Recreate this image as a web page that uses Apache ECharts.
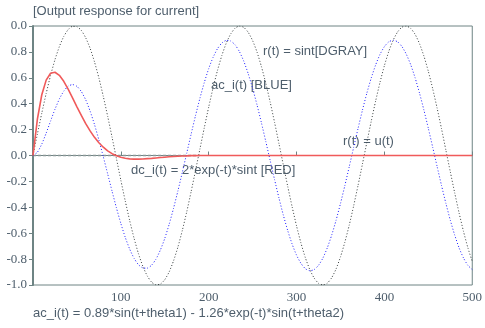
<!DOCTYPE html>
<html><head><meta charset="utf-8">
<script src="https://cdn.jsdelivr.net/npm/echarts@6/dist/echarts.min.js"></script>
<style>html,body{margin:0;padding:0;background:#fff}#c{width:485px;height:328px}</style>
</head><body><div id="c"></div>
<script>
var xs = [0,5,10,15,20,25,30,35,40,45,50,55,60,65,70,75,80,85,90,95,100,105,110,115,120,125,130,135,140,145,150,155,160,165,170,175,180,185,190,195,200,205,210,215,220,225,230,235,240,245,250,255,260,265,270,275,280,285,290,295,300,305,310,315,320,325,330,335,340,345,350,355,360,365,370,375,380,385,390,395,400,405,410,415,420,425,430,435,440,445,450,455,460,465,470,475,480,485,490,495,500];
var rSin = [0,0.166,0.327,0.479,0.618,0.740,0.841,0.919,0.972,0.998,0.995,0.966,0.909,0.828,0.723,0.599,0.457,0.303,0.141,-0.025,-0.191,-0.351,-0.501,-0.638,-0.757,-0.855,-0.929,-0.978,-0.999,-0.993,-0.959,-0.899,-0.813,-0.706,-0.578,-0.435,-0.279,-0.116,0.050,0.215,0.374,0.523,0.657,0.773,0.868,0.938,0.983,1.000,0.989,0.951,0.887,0.799,0.687,0.558,0.412,0.255,0.091,-0.075,-0.240,-0.397,-0.544,-0.676,-0.789,-0.880,-0.946,-0.987,-1.000,-0.986,-0.944,-0.876,-0.783,-0.669,-0.537,-0.389,-0.231,-0.066,0.100,0.264,0.420,0.565,0.694,0.804,0.891,0.954,0.991,1.000,0.981,0.935,0.863,0.767,0.650,0.515,0.366,0.207,0.041,-0.125,-0.288,-0.443,-0.585,-0.712,-0.819];
var acI = [0,0.025,0.088,0.173,0.266,0.357,0.436,0.497,0.535,0.548,0.534,0.494,0.430,0.343,0.239,0.120,-0.009,-0.142,-0.276,-0.405,-0.525,-0.632,-0.722,-0.793,-0.843,-0.868,-0.870,-0.847,-0.800,-0.730,-0.640,-0.531,-0.407,-0.272,-0.129,0.018,0.165,0.308,0.442,0.564,0.671,0.758,0.825,0.869,0.889,0.884,0.855,0.802,0.727,0.631,0.518,0.391,0.253,0.108,-0.040,-0.187,-0.329,-0.462,-0.581,-0.685,-0.770,-0.833,-0.874,-0.890,-0.881,-0.848,-0.792,-0.713,-0.615,-0.500,-0.371,-0.232,-0.086,0.063,0.209,0.350,0.481,0.598,0.699,0.781,0.841,0.878,0.890,0.878,0.841,0.781,0.700,0.599,0.481,0.350,0.210,0.063,-0.085,-0.231,-0.370,-0.499,-0.614,-0.713,-0.791,-0.848,-0.881];
var dcI = [0,0.281,0.469,0.582,0.635,0.643,0.619,0.573,0.512,0.445,0.376,0.309,0.246,0.190,0.140,0.098,0.064,0.036,0.014,-0.002,-0.014,-0.021,-0.026,-0.028,-0.028,-0.027,-0.024,-0.022,-0.019,-0.016,-0.013,-0.010,-0.008,-0.006,-0.004,-0.003,-0.001,-0.001,
  0,0,0,0,0,0,0,0,0,0,0,0,0,0,0,0,0,0,0,0,0,0,0,0,0,0,0,0,0,0,0,0,0,0,0,0,0,0,0,0,0,0,0,0,0,0,0,0,0,0,0,0,0,0,0,0,0,0,0,0,0,0,0];
var zeroRef = [0, 0];
var yTickLabels = ['-1.0','-0.8','-0.6','-0.4','-0.2','0.0','0.2','0.4','0.6','0.8','0.0'];
var xTickLabels = ['','100','200','300','400','500'];
var titleText = '[Output response for current]';
var notes = ['r(t) = sint[DGRAY]','ac_i(t) [BLUE]','dc_i(t) = 2*exp(-t)*sint [RED]','r(t) = u(t)','ac_i(t) = 0.89*sin(t+theta1) - 1.26*exp(-t)*sin(t+theta2)'];

function pairs(v){ return xs.map(function(x,i){ return [x, v[i]]; }); }
// the dashed zero reference is only visible where the red curve is not yet flat
var flatIdx = dcI.length - 1;
while (flatIdx > 0 && dcI[flatIdx - 1] === 0) flatIdx--;
var txtColor = '#4e5e6c';
var axisColor = '#6e8484';
var chart = echarts.init(document.getElementById('c'), null, {renderer:'canvas'});
var txt = function(s,l,t){ return {type:'text', left:l, top:t, style:{text:s, fill:txtColor, font:'13px "Liberation Sans", Arial, sans-serif'}}; };
chart.setOption({
  animation:false,
  grid:{left:33, right:9, top:26, bottom:43, show:true, borderColor:axisColor, borderWidth:1, backgroundColor:'transparent'},
  xAxis:{type:'value', min:0, max:500, interval:100,
    axisLine:{show:true, lineStyle:{color:axisColor, width:1}},
    axisTick:{show:true, inside:true, length:4, lineStyle:{color:axisColor}},
    splitLine:{show:false},
    axisLabel:{color:txtColor, fontFamily:'Liberation Serif', fontSize:13, margin:6,
      formatter:function(v){ return xTickLabels[Math.round(v/100)]; }}},
  yAxis:{type:'value', min:-1, max:1, interval:0.2,
    axisLine:{show:true, lineStyle:{color:axisColor, width:2}},
    axisTick:{show:true, inside:false, length:4, lineStyle:{color:axisColor}},
    splitLine:{show:false},
    axisLabel:{color:txtColor, fontFamily:'Liberation Serif', fontSize:13, margin:6,
      formatter:function(v){ return yTickLabels[Math.round((v+1)/0.2)]; }}},
  series:[
    {type:'line', data:[[xs[0], zeroRef[0]], [xs[flatIdx], zeroRef[1]]], showSymbol:false, z:0, silent:true,
      lineStyle:{color:'#8a9696', width:1.5, type:[3,2]}},
    {type:'line', data:pairs(rSin), smooth:0.2, showSymbol:false, z:1,
      lineStyle:{color:'#383f3f', width:1, type:[1,2]}},
    {type:'line', data:pairs(acI), smooth:0.2, showSymbol:false, z:3,
      lineStyle:{color:'#2020ff', width:1, type:[1,2]}},
    {type:'line', data:pairs(dcI), smooth:false, showSymbol:false, z:6,
      lineStyle:{color:'#f05a5a', width:1.6}}
  ],
  graphic:[
    txt(titleText, 33, 5),
    txt(notes[0], 263, 45),
    txt(notes[1], 211, 79),
    txt(notes[2], 131, 164),
    txt(notes[3], 343, 135),
    txt(notes[4], 33, 307)
  ]
});
</script></body></html>
